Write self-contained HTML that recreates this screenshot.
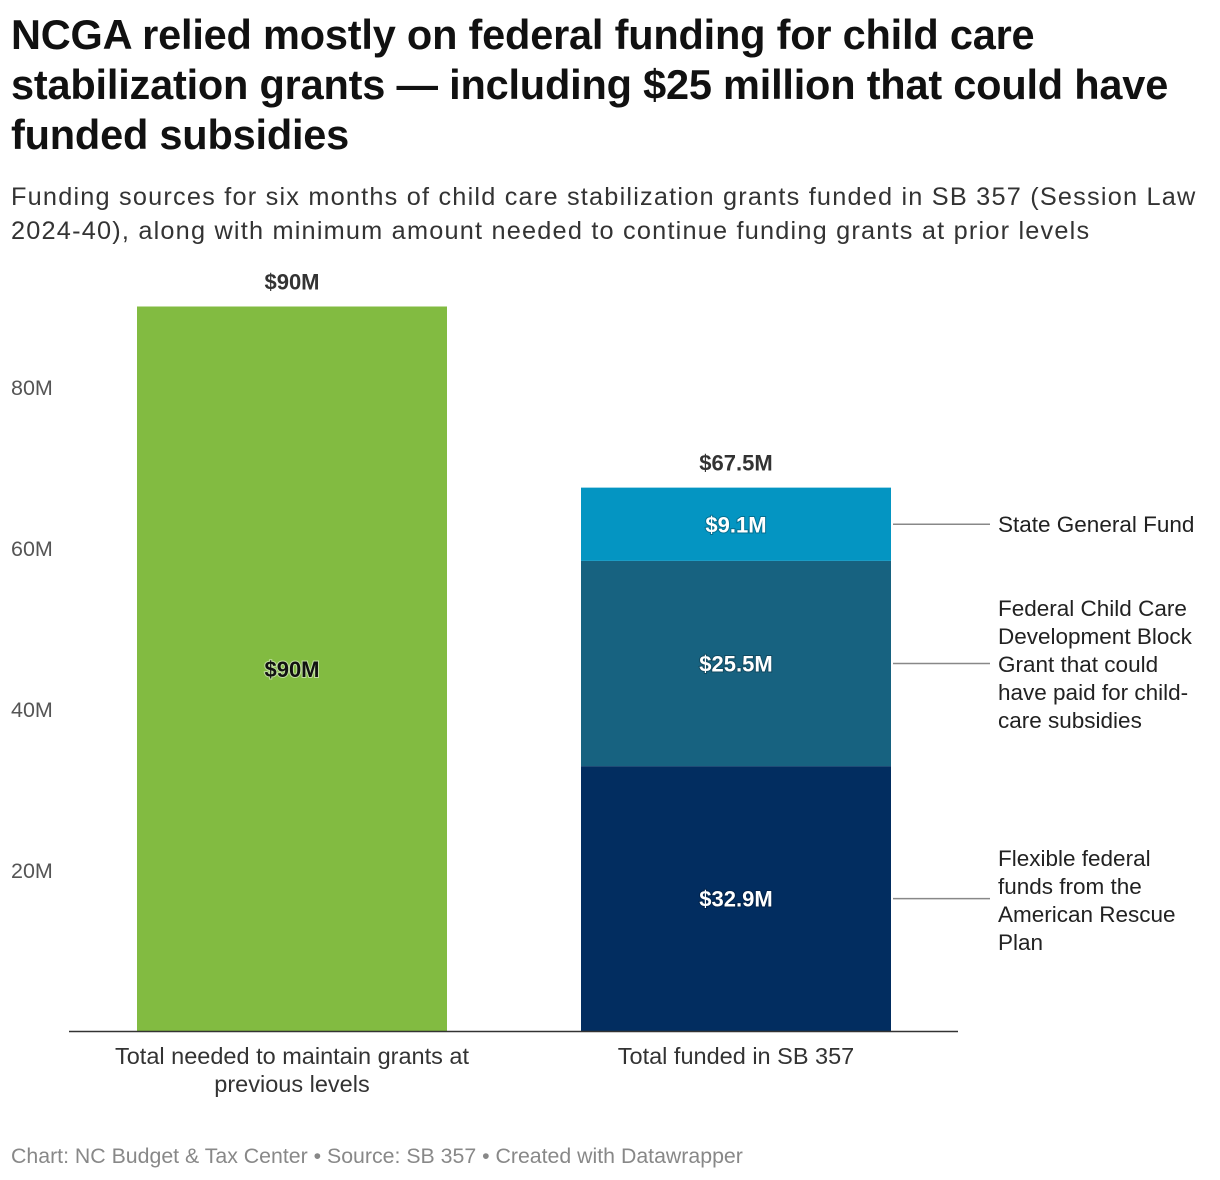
<!DOCTYPE html>
<html><head><meta charset="utf-8">
<style>
body{margin:0;background:#fff;width:1220px;height:1180px;overflow:hidden;font-family:"Liberation Sans",Arial,sans-serif;}
#title{position:absolute;left:11px;top:10px;width:1205px;font-size:41.5px;font-weight:bold;line-height:50px;color:#111;margin:0;letter-spacing:-0.2px}
#sub{position:absolute;left:11px;top:180px;width:1205px;font-size:25.3px;line-height:34px;color:#333;white-space:nowrap;letter-spacing:1.2px}
#foot{position:absolute;left:11px;top:1144px;font-size:21.3px;color:#888;}
svg{position:absolute;left:0;top:0}
</style></head><body>
<h1 id="title">NCGA relied mostly on federal funding for child care stabilization grants — including $25 million that could have funded subsidies</h1>
<div id="sub">Funding sources for six months of child care stabilization grants funded in SB 357 (Session Law<br>2024-40), along with minimum amount needed to continue funding grants at prior levels</div>
<svg id="chart" width="1220" height="1180"></svg>
<div id="foot">Chart: NC Budget &amp; Tax Center • Source: SB 357 • Created with Datawrapper</div>
<script>
const categories=["Total needed to maintain grants at|previous levels","Total funded in SB 357"];
const needed=[90,0];
const arp=[0,32.9];
const ccdbg=[0,25.5];
const stateFund=[0,9.1];
const totals=["$90M","$67.5M"];
const ticks=[20,40,60,80];
const seriesNames=["Flexible federal|funds from the|American Rescue|Plan","Federal Child Care|Development Block|Grant that could|have paid for child-|care subsidies","State General Fund"];

const NS="http://www.w3.org/2000/svg";
const svg=document.getElementById('chart');
const y0=1031,pxPer=8.05;
const y=v=>y0-v*pxPer;
const barX=[137,581],barW=310;
function mk(t,a,p){const e=document.createElementNS(NS,t);for(const k in a)e.setAttribute(k,a[k]);(p||svg).appendChild(e);return e;}
function txt(x,yy,s,o){const e=mk('text',Object.assign({x:x,y:yy},o));e.textContent=s;return e;}

ticks.forEach(t=>{
  const e=txt(11,y(t)+8,t+"M",{'font-size':21.5,fill:'#555'});
  
  
});

const fmt=v=>"$"+(Number.isInteger(v)?v:v.toFixed(1))+"M";
function seg(i,base,v,col,name,lblCol){
  if(!v)return;
  const r=mk('rect',{x:barX[i],y:y(base+v),width:barW,height:v*pxPer,fill:col});
  
  
  const l=txt(barX[i]+barW/2,y(base+v/2)+8,fmt(v),{'font-size':22,'font-weight':'bold','text-anchor':'middle',fill:lblCol,stroke:lblCol=='#fff'?'rgba(0,0,0,0.25)':'rgba(255,255,255,0.5)','stroke-width':2,'paint-order':'stroke'});
  
  
}
for(let i=0;i<2;i++){
  seg(i,0,needed[i],'#82bb41','bar-needed','#111');
  seg(i,0,arp[i],'#022d60','bar-arp','#fff');
  seg(i,arp[i],ccdbg[i],'#176280','bar-ccdbg','#fff');
  seg(i,arp[i]+ccdbg[i],stateFund[i],'#0495c2','bar-state','#fff');
  const tot=needed[i]+arp[i]+ccdbg[i]+stateFund[i];
  const t=txt(barX[i]+barW/2,y(tot)-17,totals[i],{'font-size':22,'font-weight':'bold','text-anchor':'middle',fill:'#333'});
  
  
  categories[i].split('|').forEach((s,j)=>{
    const c=txt(barX[i]+barW/2,1064+j*28,s,{'font-size':23.5,'text-anchor':'middle',fill:'#333'});
    
    
  });
}
const ax=mk('line',{x1:69,x2:958,y1:y0+0.5,y2:y0+0.5,stroke:'#333','stroke-width':1.5});



const mids=[arp[1]/2,arp[1]+ccdbg[1]/2,arp[1]+ccdbg[1]+stateFund[1]/2];
const lblTop=[866,616,532];
seriesNames.forEach((n,k)=>{
  const ly=y(mids[k]);
  const ln=mk('line',{x1:893,x2:990,y1:ly,y2:ly,stroke:'#888','stroke-width':1.5});
  
  
  n.split('|').forEach((s,j)=>{
    const e=txt(998,lblTop[k]+j*28,s,{'font-size':22.5,fill:'#222'});
    
    
  });
});
</script>
</body></html>
